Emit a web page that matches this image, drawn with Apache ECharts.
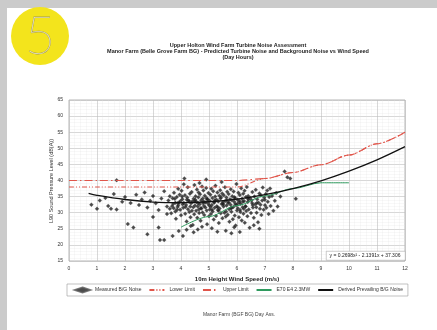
<!DOCTYPE html>
<html><head><meta charset="utf-8">
<script src="https://cdn.jsdelivr.net/npm/echarts@6/dist/echarts.min.js"></script>
<style>html,body{margin:0;padding:0;background:#fff;overflow:hidden}#c{width:437px;height:330px}</style>
</head><body><div id="c"></div>
<script>
const titleLines = ["Upper Holton Wind Farm Turbine Noise Assessment",
  "Manor Farm (Belle Grove Farm BG) - Predicted Turbine Noise and Background Noise vs Wind Speed",
  "(Day Hours)"];
const xAxisTitle = "10m Height Wind Speed (m/s)";
const yAxisTitle = "L90 Sound Pressure Level (dB(A))";
const footerText = "Manor Farm (BGF BG) Day Ass.";
const equationText = "y = 0.2698x\u00b2 - 2.1391x + 37.306";
const seriesNames = ["Measured B/G Noise", "Lower Limit", "Upper Limit", "E70 E4 2.3MW", "Derived Prevailing B/G Noise"];

const bgCurveX = [0.7, 1, 2, 3, 4, 5, 6, 7, 8, 9, 10, 11, 12];
const bgCurveY = [36.0, 35.4, 34.1, 33.3, 33.1, 33.4, 34.2, 35.6, 37.5, 39.9, 42.9, 46.4, 50.5];
const limitX = [0, 1, 2, 3, 4, 5, 6, 7, 8, 9, 10, 11, 12];
const upperLimit = [40, 40, 40, 40, 40, 40, 40, 40.6, 42.5, 44.9, 47.9, 51.4, 55.0];
const lowerLimit = [38, 38, 38, 38, 38, 38, 38, 40.6, 42.5, 44.9, 47.9, 51.4, 55.0];
const turbineX = [4, 5, 6, 7, 8, 9, 10];
const turbineY = [25.5, 28.8, 32.2, 35.2, 37.5, 39.3, 39.3];

const measuredWind = [
0.8,1.0,1.1,1.3,1.4,1.5,1.6,1.7,1.7,1.9,2.0,2.1,2.2,2.3,2.4,2.5,2.6,2.7,2.8,2.8,2.9,3.0,3.0,3.1,3.2,3.2,3.25,3.4,3.3,3.4,3.5,3.5,
3.55,3.6,3.6,3.65,3.7,3.7,3.72,3.75,3.8,3.8,3.82,3.85,3.88,3.9,3.9,3.92,3.95,3.97,3.98,4.0,
4.02,4.05,4.07,4.08,4.1,4.12,4.14,4.15,4.18,4.2,4.22,4.24,4.25,4.27,4.3,4.32,4.34,4.36,4.38,4.4,4.42,4.44,4.45,4.47,4.48,4.5,4.2,4.35,4.45,4.1,
4.52,4.54,4.55,4.57,4.58,4.6,4.62,4.63,4.65,4.67,4.68,4.7,4.72,4.73,4.75,4.77,4.78,4.8,4.82,4.83,4.85,4.87,4.88,4.9,4.92,4.93,4.95,4.97,4.98,5.0,4.6,4.75,4.9,4.66,
5.02,5.03,5.05,5.07,5.08,5.1,5.12,5.13,5.15,5.17,5.18,5.2,5.22,5.23,5.25,5.27,5.28,5.3,5.32,5.33,5.35,5.37,5.38,5.4,5.42,5.43,5.45,5.47,5.48,5.5,5.1,5.3,5.45,
5.52,5.53,5.55,5.57,5.58,5.6,5.62,5.63,5.65,5.67,5.68,5.7,5.72,5.73,5.75,5.77,5.78,5.8,5.82,5.83,5.85,5.87,5.88,5.9,5.92,5.93,5.95,5.97,5.98,6.0,5.6,5.8,5.9,
6.02,6.03,6.05,6.07,6.08,6.1,6.12,6.13,6.15,6.17,6.18,6.2,6.22,6.23,6.25,6.27,6.28,6.3,6.32,6.33,6.35,6.37,6.38,6.4,6.42,6.45,6.47,6.5,6.1,
6.52,6.55,6.57,6.6,6.62,6.65,6.67,6.7,6.72,6.75,6.77,6.8,6.82,6.85,6.87,6.9,6.92,6.95,6.97,7.0,6.6,6.8,
7.03,7.05,7.08,7.1,7.13,7.15,7.18,7.2,7.25,7.3,7.35,7.4,7.45,7.7,7.8,7.9,8.1,7.55,
3.68,3.78,3.86,3.94,4.04,4.16,4.28,4.39,4.51,4.61,4.71,4.81,4.91,5.01,5.11,5.21,5.31,5.41,5.51,5.61,5.71,5.81,5.91,6.01,6.11,6.21,6.31,6.41,6.56,6.71,
3.74,3.89,4.06,4.21,4.33,4.49,4.64,4.79,4.94,5.06,5.19,5.34,5.49,5.64,5.79,5.94,6.09,6.24,6.39,6.54,6.69,6.84,6.99];
const measuredNoise = [
32.5,31.2,33.8,34.6,32.1,31.2,35.8,31.0,40.1,33.4,34.9,26.5,33.0,25.4,35.6,32.4,34.1,36.3,23.3,31.6,33.7,35.2,28.7,32.9,25.4,30.8,21.5,21.5,34.4,36.7,31.9,29.6,
33.8,35.1,31.2,29.8,22.8,34.5,32.7,36.2,30.4,33.1,28.1,34.9,31.8,37.4,32.3,24.3,35.6,30.9,33.6,29.2,
36.8,34.2,22.8,31.5,33.0,40.6,35.4,29.7,32.4,27.3,34.7,37.9,31.1,33.8,30.2,35.9,28.6,32.9,36.4,33.5,26.2,31.7,34.3,29.5,38.6,32.2,24.7,25.9,23.9,38.8,
35.1,30.6,33.4,37.2,28.4,31.9,34.8,36.3,29.9,32.6,35.7,27.5,33.9,31.3,38.1,30.1,34.4,36.9,32.1,29.3,35.3,31.6,33.2,37.7,30.7,26.4,34.1,32.8,36.1,28.9,24.8,25.6,40.3,39.2,
33.7,31.0,35.6,29.6,37.4,32.4,34.6,30.4,36.7,27.9,33.1,31.5,35.0,38.4,29.0,34.0,32.0,36.3,30.8,33.5,26.8,35.3,31.3,37.0,29.8,34.8,32.7,36.0,28.3,33.3,25.2,24.1,39.5,
31.9,35.4,30.0,37.9,33.6,28.8,34.7,32.2,36.5,29.4,33.0,35.8,31.1,27.2,34.2,32.5,37.3,30.3,33.9,35.1,28.0,31.8,36.6,33.4,29.1,34.5,26.0,32.3,38.9,30.7,24.4,23.6,25.5,
34.0,31.4,36.2,28.6,33.2,35.5,30.2,32.8,37.6,27.6,34.3,31.7,35.9,29.7,33.6,36.8,26.9,32.0,34.9,30.5,38.0,28.9,33.3,35.2,31.0,25.3,34.6,29.9,24.0,
33.9,36.4,31.6,28.4,35.0,32.6,37.1,30.0,34.2,27.0,33.1,36.0,31.2,35.4,29.3,33.8,37.8,30.9,34.7,32.3,26.1,25.0,
35.8,31.5,36.9,33.4,29.6,34.9,37.5,32.1,35.2,30.6,33.7,36.1,31.9,42.8,41.0,40.6,34.3,35.0,
32.0,34.3,30.9,33.2,35.0,31.8,33.6,30.6,34.0,32.9,31.4,33.5,34.6,32.2,30.9,33.9,31.7,34.4,32.6,30.4,33.2,31.5,34.8,32.7,30.8,33.4,31.9,34.1,32.4,33.0,
31.4,33.0,32.6,34.0,31.9,33.7,31.0,32.9,34.2,31.8,33.3,30.6,32.8,33.9,31.4,32.7,33.6,31.2,34.5,33.0,31.7,32.5,34.0];

const zip = (a, b) => a.map((v, i) => [v, b[i]]);
const chart = echarts.init(document.getElementById('c'));
const ff = 'Liberation Sans, Arial, sans-serif';
const hideSym = { itemStyle: { opacity: 0 } };
chart.setOption({
  animation: false,
  backgroundColor: '#ffffff',
  textStyle: { fontFamily: ff },
  title: {
    text: titleLines.join('\n'),
    left: 238, top: 43, textAlign: 'center', padding: 0,
    textStyle: { fontSize: 5.5, fontWeight: 'bold', lineHeight: 5.7, color: '#222', fontFamily: ff }
  },
  graphic: [
    { type: 'rect', left: 0, top: 0, shape: { width: 437, height: 8 }, style: { fill: '#cbcbcb' }, z: 100 },
    { type: 'rect', left: 0, top: 0, shape: { width: 7, height: 330 }, style: { fill: '#cbcbcb' }, z: 100 },
    { type: 'rect', x: 420, y: 8, shape: { width: 17, height: 322 }, style: { fill: '#ffffff' }, z: 1 },
    { type: 'circle', shape: { cx: 40, cy: 36, r: 29 }, style: { fill: '#f3e41c' }, z: 100 },
    { type: 'text', x: 40, y: 37, style: { text: '5', fontSize: 52, fontWeight: 'lighter', fill: '#f3f0da', stroke: '#a39a50', lineWidth: 0.8, align: 'center', verticalAlign: 'middle', fontFamily: 'DejaVu Sans ExtraLight, Lato, sans-serif' }, z: 101 },
    { type: 'text', x: 237, y: 276, style: { text: xAxisTitle, fontSize: 6, fontWeight: 'bold', fill: '#222', align: 'center', fontFamily: ff }, z: 100 },
    { type: 'text', x: 51, y: 181, rotation: Math.PI / 2, style: { text: yAxisTitle, fontSize: 5.5, fill: '#333', align: 'center', verticalAlign: 'middle', fontFamily: ff }, z: 100 },
    { type: 'text', x: 239, y: 312, style: { text: footerText, fontSize: 5, fill: '#444', align: 'center', fontFamily: ff }, z: 100 },
    { type: 'rect', left: 326, top: 251, shape: { width: 79, height: 9 }, style: { fill: '#fff', stroke: '#999', lineWidth: 0.5 }, z: 100 },
    { type: 'text', x: 365, y: 255.5, style: { text: equationText, fontSize: 5, fill: '#222', align: 'center', verticalAlign: 'middle', fontFamily: ff }, z: 101 }
  ],
  legend: {
    left: 67, top: 284,
    padding: [2.5, 5, 2.5, 7],
    borderColor: '#999', borderWidth: 0.6,
    itemWidth: 15, itemHeight: 5, itemGap: 7,
    textStyle: { fontSize: 5, color: '#333', fontFamily: ff },
    data: [
      { name: seriesNames[0] },
      Object.assign({ name: seriesNames[1] }, hideSym),
      Object.assign({ name: seriesNames[2] }, hideSym),
      Object.assign({ name: seriesNames[3] }, hideSym),
      Object.assign({ name: seriesNames[4] }, hideSym)
    ]
  },
  grid: { left: 69, right: 32, top: 100, bottom: 69, show: true, borderColor: '#888', borderWidth: 0.6 },
  xAxis: {
    type: 'value', min: 0, max: 12, interval: 1,
    axisLine: { show: false }, axisTick: { show: false },
    axisLabel: { fontSize: 5, color: '#333', margin: 5 },
    splitLine: { show: true, lineStyle: { color: '#bdbdbd', width: 0.6 } },
    minorTick: { show: false, splitNumber: 5 },
    minorSplitLine: { show: true, lineStyle: { color: '#e2e2e2', width: 0.5, type: 'dotted' } }
  },
  yAxis: {
    type: 'value', min: 15, max: 65, interval: 5,
    axisLine: { show: false }, axisTick: { show: false },
    axisLabel: { fontSize: 5, color: '#333', margin: 6 },
    splitLine: { show: true, lineStyle: { color: '#bdbdbd', width: 0.6 } },
    minorTick: { show: false, splitNumber: 5 },
    minorSplitLine: { show: true, lineStyle: { color: '#e2e2e2', width: 0.5, type: 'dotted' } }
  },
  series: [
    { name: seriesNames[0], type: 'scatter', data: zip(measuredWind, measuredNoise),
      symbol: 'diamond', symbolSize: 4, itemStyle: { color: '#1e1e1e', borderColor: '#555', borderWidth: 0.3 }, z: 3 },
    { name: seriesNames[1], type: 'line', data: zip(limitX, lowerLimit), showSymbol: false, symbol: 'none',
      smooth: 0.3, smoothMonotone: 'x',
      lineStyle: { color: '#e0554a', width: 1.1, type: [5, 2, 1, 2, 1, 2] }, itemStyle: { color: '#e0554a' }, z: 4 },
    { name: seriesNames[2], type: 'line', data: zip(limitX, upperLimit), showSymbol: false, symbol: 'none',
      smooth: 0.3, smoothMonotone: 'x',
      lineStyle: { color: '#e0554a', width: 1.1, type: [8, 3, 1.5, 3] }, itemStyle: { color: '#e0554a' }, z: 4 },
    { name: seriesNames[3], type: 'line', data: zip(turbineX, turbineY), showSymbol: false, symbol: 'none',
      smooth: 0.3, smoothMonotone: 'x',
      lineStyle: { color: '#2f9a5e', width: 1 }, itemStyle: { color: '#2f9a5e' }, z: 5 },
    { name: seriesNames[4], type: 'line', data: zip(bgCurveX, bgCurveY), showSymbol: false, symbol: 'none',
      smooth: 0.4,
      lineStyle: { color: '#111', width: 1.3 }, itemStyle: { color: '#111' }, z: 6 }
  ]
});
</script></body></html>
